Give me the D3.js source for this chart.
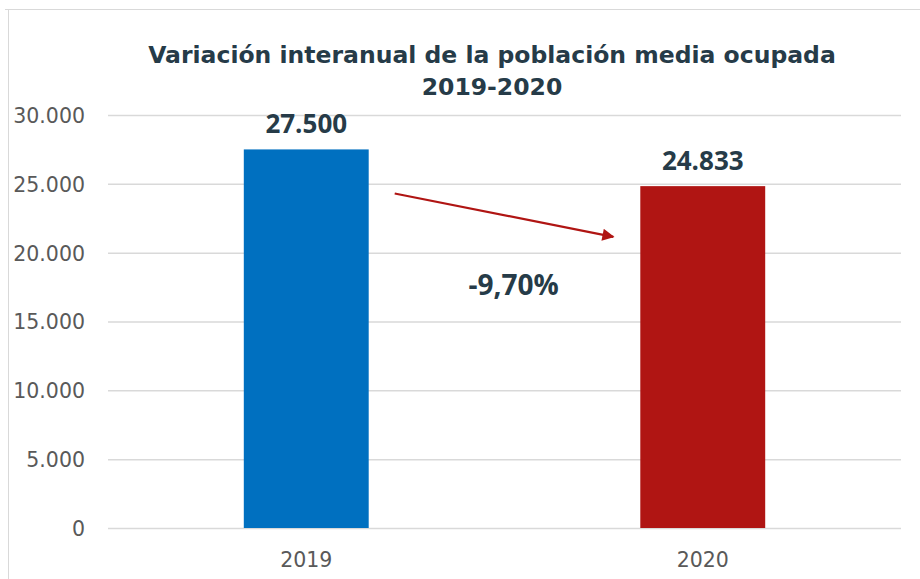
<!DOCTYPE html>
<html>
<head>
<meta charset="utf-8">
<script src="https://cdn.jsdelivr.net/npm/d3@7"></script>
<style>
  body { margin: 0; background: #fff; }
  text { font-family: "DejaVu Sans", sans-serif; }
</style>
</head>
<body>
<div id="chart"></div>
<script>

// data
var years       = [ "2019", "2020" ];
var ocupados    = [ 27500, 24833 ];
var bar_colors  = [ "#0070c0", "#b01513" ];
var y_ticks     = [ 0, 5000, 10000, 15000, 20000, 25000, 30000 ];
var variacion   = "-9,70%";
// arrow annotation, in data units (start / end height)
var arrow_vals  = [ 24300, 21150 ];

// --------------------------------------------------------

var chart_width   = 920;
var chart_height  = 579;
var margin        = { left: 108, right: 19, top: 115, bottom: 51 };

var svg = d3.select("#chart")
    .append("svg")
    .attr("width", chart_width)
    .attr("height", chart_height);

// frame of the chart area (left + top visible)
svg.append("path")
    .attr("d", "M5,9.5 H920 M8.5,9.5 V579")
    .attr("stroke", "#d9d9d9")
    .attr("stroke-width", 1)
    .attr("fill", "none");

// --------------------------------------------------------
// scales

var x_scale = d3.scaleBand()
    .domain(years)
    .range([margin.left, chart_width - margin.right])
    .padding(0);

var bar_w = x_scale.bandwidth() * 0.315;

var y_scale = d3.scaleLinear()
    .domain([0, 30000])
    .range([chart_height - margin.bottom, margin.top]);

var fmt = function(v) {
    return d3.format(",")(v).replace(/,/g, ".");
};

// --------------------------------------------------------
// gridlines + y axis

var y_axis = d3.axisLeft(y_scale)
    .tickValues(y_ticks)
    .tickSize(-(chart_width - margin.right - margin.left))
    .tickPadding(23)
    .tickFormat(fmt);

var gy = svg.append("g")
    .attr("transform", "translate(" + margin.left + ",0)")
    .call(y_axis);

gy.select(".domain").remove();
gy.selectAll(".tick line")
    .attr("stroke", "#d9d9d9")
    .attr("stroke-width", 1.5);
gy.selectAll(".tick text")
    .attr("fill", "#595959")
    .style("font-size", "20.5px")
    .attr("dy", "0.36em");

// x axis labels
var x_axis = d3.axisBottom(x_scale)
    .tickSize(0)
    .tickPadding(24);

var gx = svg.append("g")
    .attr("transform", "translate(0," + (chart_height - margin.bottom) + ")")
    .call(x_axis);

gx.select(".domain").remove();
gx.selectAll(".tick text")
    .attr("fill", "#595959")
    .style("font-size", "20.5px");

// --------------------------------------------------------
// bars

svg.selectAll("rect.bar")
    .data(ocupados)
    .enter()
    .append("rect")
    .attr("class", "bar")
    .attr("x", (d, i) => x_scale(years[i]) + x_scale.bandwidth() / 2 - bar_w / 2)
    .attr("y", (d) => y_scale(d))
    .attr("width", bar_w)
    .attr("height", (d) => y_scale(0) - y_scale(d))
    .attr("fill", (d, i) => bar_colors[i]);

// value labels
svg.selectAll("text.val")
    .data(ocupados)
    .enter()
    .append("text")
    .attr("class", "val")
    .attr("x", (d, i) => x_scale(years[i]) + x_scale.bandwidth() / 2)
    .attr("y", (d) => y_scale(d) - 16)
    .attr("text-anchor", "middle")
    .attr("fill", "#263b48")
    .style("font-family", "'Open Sans', sans-serif")
    .style("font-size", "26px")
    .style("font-weight", "bold")
    .text((d) => fmt(d));

// --------------------------------------------------------
// title

var title = svg.append("text")
    .attr("x", 492)
    .attr("y", 63)
    .attr("text-anchor", "middle")
    .attr("fill", "#263b48")
    .style("font-size", "23.5px")
    .style("font-weight", "bold");

title.append("tspan").attr("x", 492).text("Variación interanual de la población media ocupada");
title.append("tspan").attr("x", 492).attr("dy", 32).text("2019-2020");

// --------------------------------------------------------
// arrow + percent

var defs = svg.append("defs");
defs.append("marker")
    .attr("id", "head")
    .attr("viewBox", "0 0 10 10")
    .attr("refX", 9)
    .attr("refY", 5)
    .attr("markerWidth", 7)
    .attr("markerHeight", 5.5)
    .attr("markerUnits", "strokeWidth")
    .attr("orient", "auto")
    .append("path")
    .attr("d", "M0,0 L10,5 L0,10 Z")
    .attr("fill", "#b01513");

var ax0 = x_scale(years[0]) + x_scale.bandwidth() / 2 + bar_w / 2 + 26;
var ax1 = x_scale(years[1]) + x_scale.bandwidth() / 2 - bar_w / 2 - 27;

svg.append("line")
    .attr("x1", ax0)
    .attr("y1", y_scale(arrow_vals[0]))
    .attr("x2", ax1)
    .attr("y2", y_scale(arrow_vals[1]))
    .attr("stroke", "#b01513")
    .attr("stroke-width", 2.2)
    .attr("marker-end", "url(#head)");

svg.append("text")
    .attr("x", (x_scale(years[0]) + x_scale(years[1]) + x_scale.bandwidth()) / 2 + 9)
    .attr("y", y_scale(16950))
    .attr("text-anchor", "middle")
    .attr("fill", "#263b48")
    .style("font-family", "'Open Sans', sans-serif")
    .style("font-size", "28px")
    .style("font-weight", "bold")
    .text(variacion);

</script>
</body>
</html>
